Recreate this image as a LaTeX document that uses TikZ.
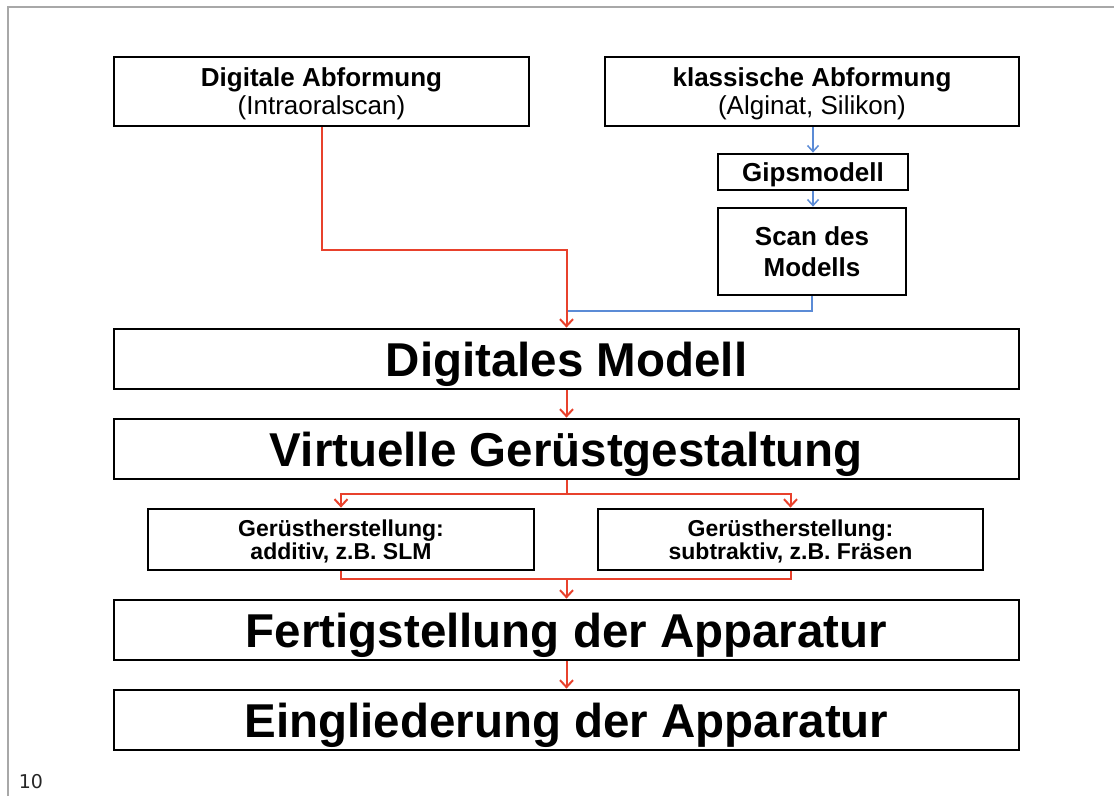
\documentclass[tikz,border=0pt]{standalone}
\usepackage{fontspec}
\setmainfont{Liberation Sans}
\newfontfamily\pagefont{DejaVu Sans}
\usetikzlibrary{arrows.meta}
\definecolor{conred}{HTML}{E8412C}
\definecolor{conblue}{HTML}{5B8BD6}
\definecolor{framegray}{HTML}{A8A8A8}
\tikzset{
  box/.style={draw=black, line width=2.8pt, inner sep=0pt, fill=white},
  lbl/.style={inner sep=0pt, align=center},
  bigtxt/.style={font=\fontsize{47.5}{50}\selectfont\bfseries, text height=34pt, text depth=0pt},
  midtxt/.style={font=\fontsize{26}{28}\selectfont},
  smalltxt/.style={font=\fontsize{23}{23}\selectfont\bfseries},
  redcon/.style={draw=conred, line width=2pt, -{Straight Barb[length=7pt,width=13pt,line width=2pt]}},
  redline/.style={draw=conred, line width=2pt},
  bluecon/.style={draw=conblue, line width=1.5pt, -{Straight Barb[length=6pt,width=11pt,line width=1.5pt]}},
  blueline/.style={draw=conblue, line width=1.5pt},
}
\begin{document}
\begin{tikzpicture}[x=1pt,y=-1pt]
\useasboundingbox (0,0) rectangle (1114,796);
\draw[framegray, line width=1.4pt] (8,796) -- (8,7) -- (1114,7);
\node[font=\pagefont\fontsize{19}{19}\selectfont, text=black!85] (pg) at (31,782) {10};

\node[box, minimum width=415pt, minimum height=69pt] (dA) at (321.5,91.5) {};
\node[lbl, midtxt] (dAt) at ([yshift=-2.5pt]dA.center) {\textbf{Digitale Abformung}\\(Intraoralscan)};
\node[box, minimum width=414pt, minimum height=69pt] (kA) at (812,91.5) {};
\node[lbl, midtxt] (kAt) at ([yshift=-2.5pt]kA.center) {\textbf{klassische Abformung}\\(Alginat, Silikon)};
\node[box, minimum width=190pt, minimum height=36pt, font=\fontsize{26}{28}\selectfont\bfseries, text height=18.6pt, text depth=0pt] (gips) at (813,172) {Gipsmodell};
\node[box, minimum width=188pt, minimum height=87pt] (scan) at (812,251.5) {};
\node[lbl, font=\fontsize{26}{31}\selectfont\bfseries] (scant) at (scan.center) {Scan des\\Modells};
\node[box, minimum width=905pt, minimum height=60pt, bigtxt] (dm) at (566.5,359) {Digitales Modell};
\node[box, minimum width=905pt, minimum height=60pt, bigtxt] (vg) at (566.5,449) {Virtuelle Gerüstgestaltung};
\node[box, minimum width=386pt, minimum height=61pt] (ga) at (341,539.5) {};
\node[lbl, smalltxt] (gat) at ([yshift=-2pt]ga.center) {Gerüstherstellung:\\additiv, z.B. SLM};
\node[box, minimum width=385pt, minimum height=61pt] (gs) at (790.5,539.5) {};
\node[lbl, smalltxt] (gst) at ([yshift=-2pt]gs.center) {Gerüstherstellung:\\subtraktiv, z.B. Fräsen};
\node[box, minimum width=905pt, minimum height=60pt, bigtxt] (fa) at (566.5,630) {Fertigstellung der Apparatur};
\node[box, minimum width=905pt, minimum height=60pt, bigtxt] (ea) at (566.5,720) {Eingliederung der Apparatur};

% classic path (blue)
\draw[bluecon] (kA.south -| gips.north) -- (gips.north);
\draw[bluecon] (gips.south) -- (gips.south |- scan.north);
\coordinate (b1) at (566.5,311);
\draw[blueline] (scan.south) |- (b1);

% digital path (red)
\coordinate (r1) at (566.5,250);
\draw[redcon] (dA.south) |- (r1) -- (dm.north);
\draw[redcon] (dm.south) -- (vg.north);

% split
\coordinate (s1) at (566.5,494);
\draw[redline] (vg.south) -- (s1);
\draw[redcon] (s1) -| (ga.north);
\draw[redcon] (s1) -| (gs.north);

% merge
\coordinate (m1) at (566.5,579);
\draw[redline] (ga.south) |- (m1);
\draw[redline] (gs.south) |- (m1);
\draw[redcon] (m1) -- (fa.north);
\draw[redcon] (fa.south) -- (ea.north);
\end{tikzpicture}
\end{document}
